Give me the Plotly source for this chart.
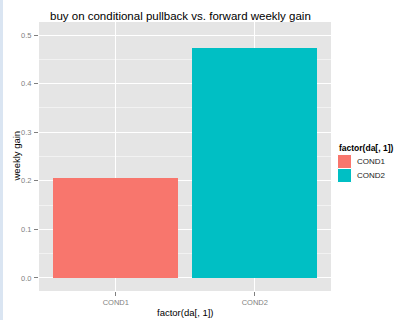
import plotly.graph_objects as go

categories = ["COND1", "COND2"]
values = [0.206, 0.474]
colors = ["#F8766D", "#00BFC4"]
title_text = "buy on conditional pullback vs. forward weekly gain"
x_title = "factor(da[, 1])"
y_title = "weekly gain"
legend_title = "factor(da[, 1])"
y_ticks = [0.0, 0.1, 0.2, 0.3, 0.4, 0.5]

W, H = 400, 320
L, R, T, B = 39, 331, 22, 291
pw, ph = R - L, B - T

def px_x(p):
    return (p - L) / pw

def px_y(p):
    return (B - p) / ph

FONT = "Liberation Sans, Arial, sans-serif"

fig = go.Figure()
for c, v, col in zip(categories, values, colors):
    fig.add_trace(go.Bar(x=[c], y=[v], marker=dict(color=col, line=dict(width=0)),
                         width=0.9, showlegend=False, name=c))

shapes = []
annotations = []
# left blue strip
shapes.append(dict(type="rect", xref="paper", yref="paper", x0=px_x(0), x1=px_x(3),
                   y0=px_y(H), y1=px_y(0), fillcolor="#DAE5F2", line=dict(width=0), layer="below"))

# manual legend
annotations.append(dict(text="<b>" + legend_title + "</b>", xref="paper", yref="paper",
                        x=px_x(337), y=px_y(148), xanchor="left", yanchor="middle",
                        showarrow=False, font=dict(family=FONT, size=8.5, color="#000000")))
for i, (c, col) in enumerate(zip(categories, colors)):
    top = 154.5 + i * 14
    shapes.append(dict(type="rect", xref="paper", yref="paper", x0=px_x(337.5), x1=px_x(351.5),
                       y0=px_y(top + 14), y1=px_y(top), fillcolor=col,
                       line=dict(width=1, color="#FFFFFF")))
    annotations.append(dict(text=c, xref="paper", yref="paper", x=px_x(355), y=px_y(top + 7),
                            xanchor="left", yanchor="middle", showarrow=False,
                            font=dict(family=FONT, size=8, color="#1A1A1A")))

# axis titles
annotations.append(dict(text=x_title, xref="paper", yref="paper", x=0.5, y=px_y(312),
                        xanchor="center", yanchor="middle", showarrow=False,
                        font=dict(family=FONT, size=9.5, color="#000000")))
annotations.append(dict(text=y_title, xref="paper", yref="paper", x=px_x(16), y=0.5,
                        xanchor="center", yanchor="middle", textangle=-90, showarrow=False,
                        font=dict(family=FONT, size=9.5, color="#000000")))
# title
annotations.append(dict(text=title_text, xref="paper", yref="paper", x=px_x(48), y=px_y(16),
                        xanchor="left", yanchor="middle", showarrow=False,
                        font=dict(family=FONT, size=11.5, color="#000000")))

fig.update_layout(
    width=W, height=H,
    margin=dict(l=L, r=W - R, t=T, b=H - B, pad=0),
    paper_bgcolor="#FFFFFF", plot_bgcolor="#E5E5E5",
    shapes=shapes, annotations=annotations,
    bargap=0, showlegend=False,
    font=dict(family=FONT),
)
fig.update_xaxes(
    type="category", categoryorder="array", categoryarray=categories,
    range=[-0.552, 1.548], showgrid=True, gridcolor="#FFFFFF", gridwidth=1,
    ticks="outside", ticklen=4, tickcolor="#7F7F7F", tickwidth=1,
    tickfont=dict(family=FONT, size=7.5, color="#7F7F7F"), zeroline=False,
    showline=False, fixedrange=True,
)
fig.update_yaxes(
    range=[-0.027, 0.527], tickvals=y_ticks, ticktext=[f"{t:.1f}" for t in y_ticks],
    showgrid=True, gridcolor="#FFFFFF", gridwidth=1,
    minor=dict(tickvals=[0.05, 0.15, 0.25, 0.35, 0.45], showgrid=True,
               gridcolor="#F2F2F2", gridwidth=1, ticks=""),
    ticks="outside", ticklen=4, tickcolor="#7F7F7F", tickwidth=1,
    tickfont=dict(family=FONT, size=7.5, color="#7F7F7F"), zeroline=False,
    showline=False, fixedrange=True, ticklabelstandoff=1,
)

fig.write_html("out.html")
